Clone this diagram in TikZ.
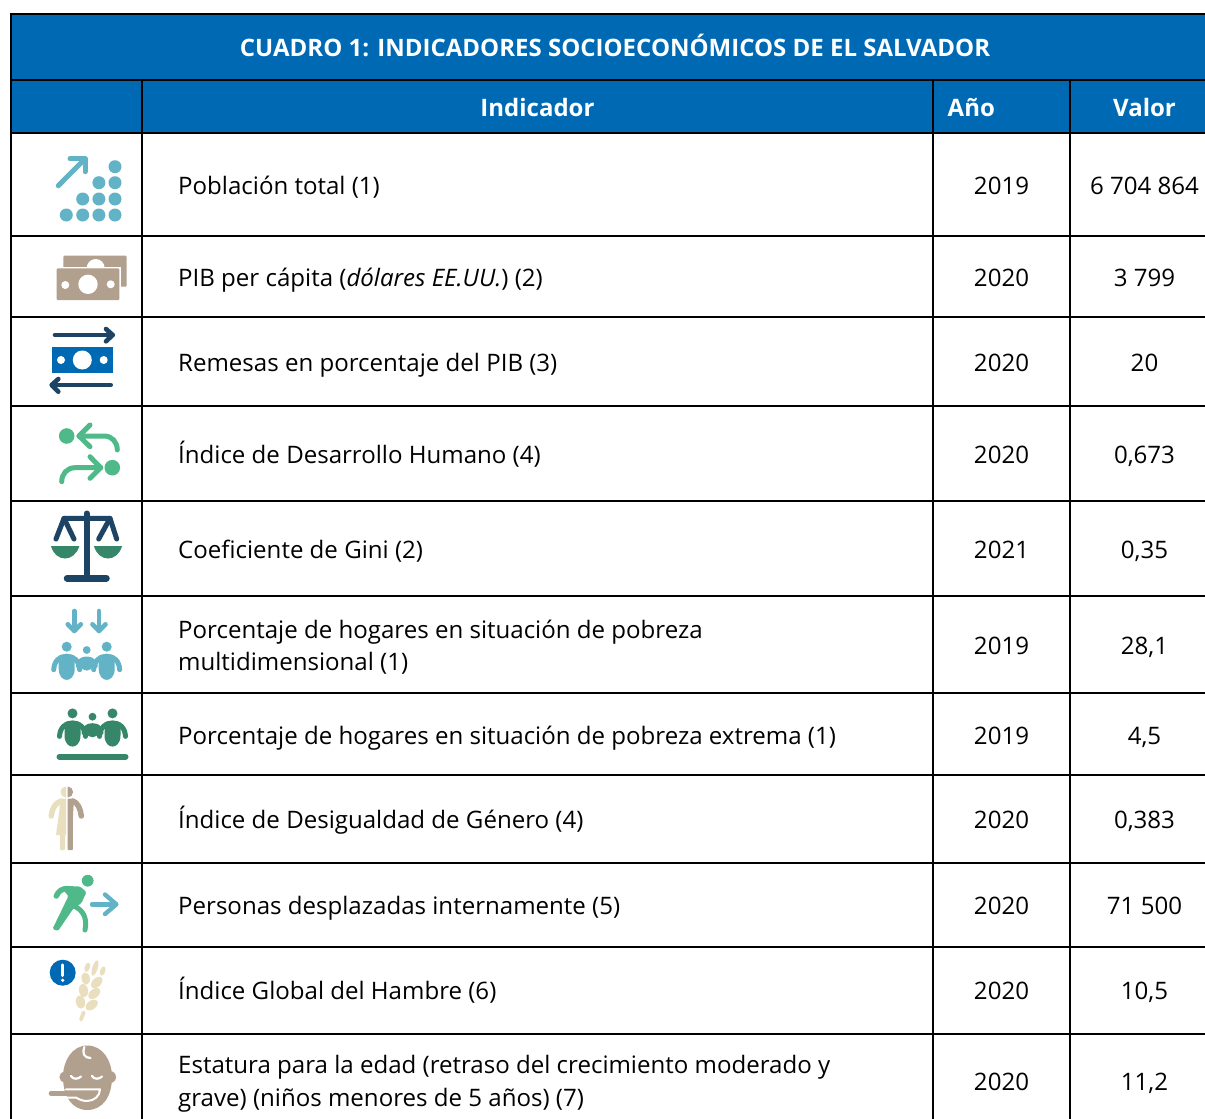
\documentclass[tikz,border=0pt]{standalone}
\usepackage{fontspec}
\setmainfont{Open Sans}
\definecolor{hdrblue}{HTML}{0069B4}
\definecolor{teal}{HTML}{62B3C6}
\definecolor{taupe}{HTML}{B2A08E}
\definecolor{navy}{HTML}{1D4464}
\definecolor{mint}{HTML}{4FB98A}
\definecolor{forest}{HTML}{36866A}
\definecolor{cream}{HTML}{E9DFBE}
\tikzset{
  rule/.style={draw=black,line width=2.4pt},
  cell/.style={font=\fontsize{24.07}{32}\selectfont,text=black,inner sep=0pt,align=left},
  lab/.style={cell,anchor=base west},
  num/.style={cell,anchor=base},
  head/.style={font=\fontsize{24}{32}\selectfont\bfseries,text=white,inner sep=0pt,anchor=base},
  ln/.style={line width=#1,line cap=round,line join=round},
}
\newcommand{\threepeople}[2]{% colour, position of the small head
  \begin{scope}[shift={#2}]
    \foreach \dx in {-20,20}{
      \begin{scope}[shift={(\dx,-3.3)}]
        \fill[#1] (0,0) circle (5);
        \draw[#1,ln=5pt] (-13,23) .. controls (-12.5,14) and (-7,9.5) .. (0,9.5) .. controls (7,9.5) and (12.5,14) .. (13,23);
        \fill[#1] (-8,9) -- (8,9) -- (8,22) .. controls (8,30) and (3.5,33.2) .. (0,33.2) .. controls (-3.5,33.2) and (-8,30) .. (-8,22) -- cycle;
      \end{scope}
    }
    \fill[#1] (0,0) circle (3.9);
    \draw[#1,ln=4pt] (-9,16) .. controls (-8,11) and (-5,8.5) .. (0,8.5) .. controls (5,8.5) and (8,11) .. (9,16);
    \fill[#1] (-6,8) -- (6,8) -- (6,15) .. controls (5.5,22.5) and (-5.5,22.5) .. (-6,15) -- cycle;
  \end{scope}
}
\begin{document}
\begin{tikzpicture}[x=1pt,y=-1pt]
\useasboundingbox (0,0) rectangle (1205,1119);
\fill[white] (0,0) rectangle (1205,1119);
% header bands
\fill[hdrblue] (11,14) rectangle (1205,133);
% rules
\foreach \yy in {14,80,133,236,317,406,501,596,693,775,863,947,1034}
  \draw[rule] (11,\yy) -- (1205,\yy);
\draw[rule] (11,12.8) -- (11,1119);
\draw[rule] (142,80) -- (142,1119);
\draw[rule] (933,80) -- (933,1119);
\draw[rule] (1070,80) -- (1070,1119);
% header text
\node[head] (title) at (615,56) {CUADRO 1: INDICADORES SOCIOECONÓMICOS DE EL SALVADOR};
\node[head] (hind) at (537.5,116) {Indicador};
\node[head] (hano) at (971.3,116) {Año};
\node[head] (hval) at (1144.5,116) {Valor};
% rows
\node[lab] (l1) at (178,194) {Población total (1)};
\node[num] (a1) at (1001.5,194) {2019};
\node[num] (v1) at (1144.5,194) {6~704~864};
\node[lab] (l2) at (178,286) {PIB per cápita (\textit{dólares EE.UU.}) (2)};
\node[num] (a2) at (1001.5,286) {2020};
\node[num] (v2) at (1144.5,286) {3~799};
\node[lab] (l3) at (178,371) {Remesas en porcentaje del PIB (3)};
\node[num] (a3) at (1001.5,371) {2020};
\node[num] (v3) at (1144.5,371) {20};
\node[lab] (l4) at (178,463) {Índice de Desarrollo Humano (4)};
\node[num] (a4) at (1001.5,463) {2020};
\node[num] (v4) at (1144.5,463) {0,673};
\node[lab] (l5) at (178,558) {Coeficiente de Gini (2)};
\node[num] (a5) at (1001.5,558) {2021};
\node[num] (v5) at (1144.5,558) {0,35};
\node[lab] (l6a) at (178,638) {Porcentaje de hogares en situación de pobreza};
\node[lab] (l6b) at (178,670) {multidimensional (1)};
\node[num] (a6) at (1001.5,654) {2019};
\node[num] (v6) at (1144.5,654) {28,1};
\node[lab] (l7) at (178,744) {Porcentaje de hogares en situación de pobreza extrema (1)};
\node[num] (a7) at (1001.5,744) {2019};
\node[num] (v7) at (1144.5,744) {4,5};
\node[lab] (l8) at (178,828) {Índice de Desigualdad de Género (4)};
\node[num] (a8) at (1001.5,828) {2020};
\node[num] (v8) at (1144.5,828) {0,383};
\node[lab] (l9) at (178,914) {Personas desplazadas internamente (5)};
\node[num] (a9) at (1001.5,914) {2020};
\node[num] (v9) at (1144.5,914) {71~500};
\node[lab] (l10) at (178,999) {Índice Global del Hambre (6)};
\node[num] (a10) at (1001.5,999) {2020};
\node[num] (v10) at (1144.5,999) {10,5};
\node[lab] (l11a) at (178,1073) {Estatura para la edad (retraso del crecimiento moderado y};
\node[lab] (l11b) at (178,1106) {grave) (niños menores de 5 años) (7)};
\node[num] (a11) at (1001.5,1090) {2020};
\node[num] (v11) at (1144.5,1090) {11,2};
% icon 1
\foreach \p in {(115,166.7),(98.9,182.7),(115,182.7),(82.7,199),(98.9,199),(115,199),(66.3,215),(82.7,215),(98.9,215),(115,215)}
  \fill[teal] \p circle (6.5);
\draw[teal,ln=5pt] (58.3,185.7) -- (85,158.8);
\draw[teal,ln=5pt] (70,158.8) -- (85,158.8) -- (85,171.7);
% icon 2
\fill[taupe,rounded corners=1pt] (63.3,255.7) rectangle (126.7,286.7);
\fill[white] (95.7,268) circle (9);
\fill[white] (55,266.8) rectangle (120.8,302);
\fill[taupe,rounded corners=1pt] (56.7,268.3) rectangle (119.3,300);
\fill[white] (88,284.3) circle (9.7) (65.3,285) circle (4) (110.7,284.3) circle (4);
% icon 3
\draw[navy,ln=4.6pt] (55,335) -- (112.7,335);
\draw[navy,ln=4.6pt] (106,329) -- (112.7,335) -- (106,341.3);
\draw[navy,ln=4.6pt] (53,385) -- (110.7,385);
\draw[navy,ln=4.6pt] (58.3,379) -- (51.7,385) -- (58.3,391.7);
\fill[hdrblue] (51.7,346.7) rectangle (113.3,373.3);
\fill[white] (82.3,360) circle (9.5) (61,360) circle (4) (103.7,360) circle (4);
% icon 4
\fill[mint] (66.7,436) circle (7.8) (112.3,467.7) circle (7.8);
\draw[mint,ln=5pt] (90,425) -- (79,436) -- (90,446.7);
\draw[mint,ln=5pt] (79,436) -- (104,436) .. controls (112,436) and (117.3,442) .. (117.3,450);
\draw[mint,ln=5pt] (90,456.7) -- (100.7,467.7) -- (90,478.3);
\draw[mint,ln=5pt] (100.7,467.7) -- (75,467.7) .. controls (67,467.7) and (61.7,474) .. (61.7,481.7);
% icon 5
\draw[navy,ln=6pt] (86.7,513.5) -- (86.7,578);
\draw[navy,ln=6.5pt] (67,578.3) -- (106.5,578.3);
\draw[navy,ln=5pt] (56,539) -- (64,518.3) -- (110,518.3) -- (116.7,539);
\draw[navy,ln=5pt] (64,518.3) -- (74,539);
\draw[navy,ln=5pt] (110,518.3) -- (98.7,539);
\fill[forest] (51,546) -- (79.3,546) .. controls (77,554) and (71,558.5) .. (65,558.5) .. controls (59,558.5) and (53,554) .. (51,546) -- cycle;
\fill[forest] (94,546) -- (122,546) .. controls (120,554) and (114,558.5) .. (108,558.5) .. controls (102,558.5) and (96,554) .. (94,546) -- cycle;
% icon 6
\foreach \xx in {74.3,99}{
  \draw[teal,ln=4.6pt] (\xx,611) -- (\xx,630);
  \draw[teal,ln=4.6pt] (\xx-6.5,624.3) -- (\xx,631) -- (\xx+6.5,624.3);
}
\threepeople{teal}{(86.7,650)}
% icon 7
\threepeople{forest}{(92.5,716.7)}
\draw[forest,ln=6pt] (59.5,756.7) -- (125.5,756.7);
% icon 8
\fill[cream] (66,797.5) arc (90:270:5.5) -- cycle;
\fill[taupe] (67.6,797.5) arc (90:-90:5.5) -- cycle;
\fill[cream,rounded corners=0.8pt] (66.2,798.6) -- (60,798.6) -- (59.5,810) -- (56,835) -- (60,835) -- (60,850) -- (65,850) -- (65,835) -- (66.2,835) -- cycle;
\draw[cream,ln=5.5pt] (61,801) .. controls (55,803) and (52,809) .. (51.2,816);
\fill[taupe,rounded corners=0.8pt] (67.6,798.6) -- (74,798.6) -- (73,815) -- (72.8,850) -- (67.6,850) -- cycle;
\draw[taupe,ln=5.5pt] (73,801) .. controls (78,803) and (80.5,809) .. (81.3,816);
% icon 9
\fill[mint] (87.7,880.7) circle (5.9);
\draw[mint,ln=5.5pt] (56.3,896) .. controls (58.5,891) and (62,888.5) .. (68,888.5);
\fill[mint,rounded corners=1.5pt] (67,886) -- (80,886.5) -- (86.5,892) -- (81.5,903) -- (73,909) -- (58,931) -- (52.5,929) -- (68.5,896) -- (64,891) -- cycle;
\draw[mint,ln=5pt] (74,906) .. controls (83,910) and (87.5,918) .. (85,930);
\draw[teal,ln=4.4pt] (92,904.3) -- (116,904.3);
\draw[teal,ln=4.4pt] (105,894.5) -- (116.3,904.3) -- (105,914);
% icon 10
\fill[hdrblue] (62.7,972.7) circle (13);
\draw[white,ln=3.4pt] (62.7,965) -- (62.7,975.5);
\fill[white] (62.7,980.3) circle (1.8);
\draw[cream,ln=3.8pt] (81,1019.5) -- (83.7,1012.3);
\foreach \cx/\cy/\rx/\ry/\ang in {80.5/1002/6.6/4.6/100,83.5/990.5/6.6/4.6/100,85.7/978.5/6.2/4.2/100,91.7/1005/6.8/4.4/35,94.3/993.5/6.8/4.4/40,96.7/982.5/6.8/4.4/45,87.3/967.3/4.8/2.6/72,95/968/8/2.7/72,102.7/971/4.8/2.6/72}
  \fill[cream,rotate around={\ang:(\cx,\cy)}] (\cx,\cy) ellipse (\rx pt and \ry pt);
% icon 11
\fill[taupe] (87.3,1045.5) .. controls (103,1045.5) and (112,1061) .. (112,1077) .. controls (112,1096) and (103,1110) .. (87.3,1110) .. controls (72,1110) and (63,1096) .. (63,1077) .. controls (63,1061) and (72,1045.5) .. (87.3,1045.5) -- cycle;
\fill[taupe] (65,1077) circle (5.6) (110,1077) circle (6);
\draw[white,ln=2.2pt] (84.3,1047) .. controls (82,1053) and (84,1058) .. (90.5,1058);
\draw[white,ln=2.2pt] (71,1076) .. controls (73,1079.5) and (78,1079.5) .. (81,1076.5);
\draw[white,ln=2.2pt] (92,1076) .. controls (94,1079.5) and (99,1079.5) .. (102,1076.5);
\draw[white,ln=2pt] (66,1089.3) -- (100,1089.3) .. controls (100,1096) and (94,1101) .. (87,1101) .. controls (83,1101) and (79,1099.5) .. (76,1097.5) -- (66,1097.5);
\draw[taupe,ln=4.6pt] (51,1093.4) -- (78,1093.4);
\end{tikzpicture}
\end{document}
